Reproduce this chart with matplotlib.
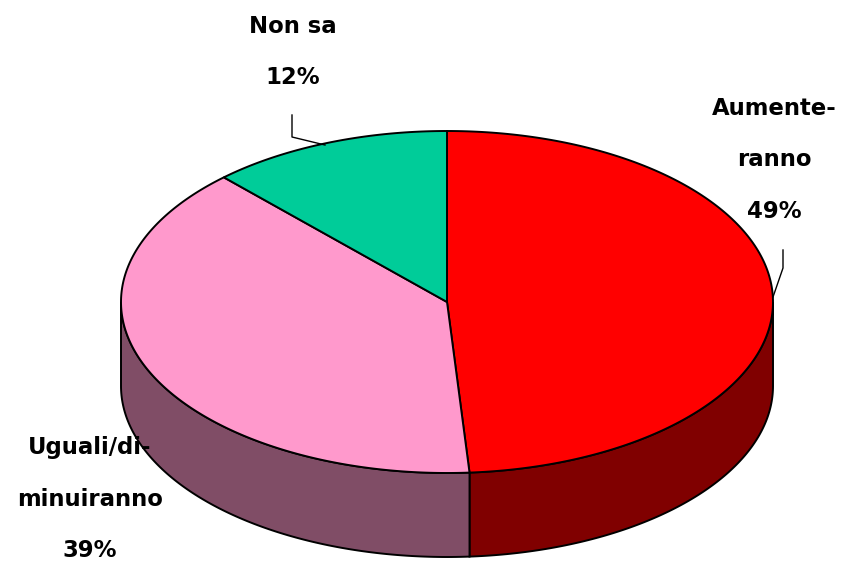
import numpy as np
import matplotlib
matplotlib.use("Agg")
import matplotlib.pyplot as plt
from matplotlib.patches import Polygon

labels = ["Aumente-\nranno\n49%", "Uguali/di-\nminuiranno\n39%", "Non sa\n12%"]
values = [48.9, 39.1, 12]
top_colors = ["#ff0000", "#ff99cc", "#00cc99"]
side_colors = ["#800000", "#804d66", "#006650"]

cx, cy = 447, 302
rx, ry = 326, 171
depth = 84


def ell(deg, dy=0):
    # angle clockwise from 12 o'clock
    a = np.deg2rad(deg)
    return np.column_stack([cx + rx * np.sin(a), cy - ry * np.cos(a) + dy])


fig = plt.figure(figsize=(8.54, 5.63), dpi=100)
ax = fig.add_axes([0, 0, 1, 1])
ax.set_xlim(0, 854)
ax.set_ylim(563, 0)
ax.axis("off")

edges = np.concatenate([[0], np.cumsum(values)]) * 3.6

# side walls, only the front half of the ellipse shows
for i in range(len(values)):
    start = max(edges[i], 90)
    stop = min(edges[i + 1], 270)
    if stop <= start:
        continue
    t = np.linspace(start, stop, 120)
    pts = np.vstack([ell(t), ell(t[::-1], depth)])
    ax.add_patch(Polygon(pts, closed=True, fc=side_colors[i], ec="black", lw=1.4))

# top face
for i in range(len(values)):
    t = np.linspace(edges[i], edges[i + 1], 200)
    pts = np.vstack([[cx, cy], ell(t)])
    ax.add_patch(Polygon(pts, closed=True, fc=top_colors[i], ec="black", lw=1.4))

# leader lines
ax.plot([783, 783, 773], [250, 268, 297], color="black", lw=1)
ax.plot([292, 292, 325], [115, 137, 145], color="black", lw=1)

font = dict(family="DejaVu Sans", fontweight="bold", fontsize=16.4, ha="center",
            va="center", linespacing=2.56, color="black")
ax.text(774, 160, labels[0], **font)
ax.text(90, 499, labels[1], **font)
ax.text(293, 52, labels[2], **font)

fig.savefig("out.png", dpi=100)
